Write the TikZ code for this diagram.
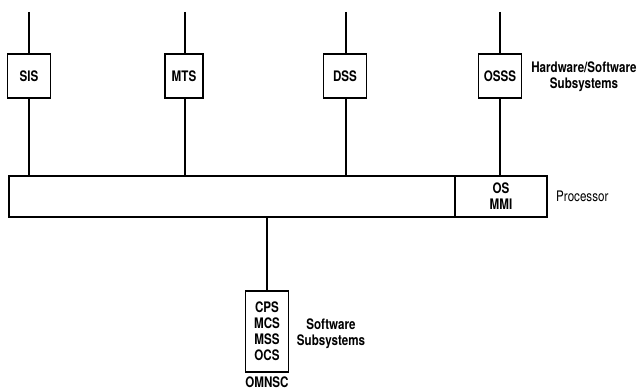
\documentclass[tikz,border=0pt]{standalone}
\usepackage{fontspec}
\setmainfont[FakeStretch=0.8]{TeX Gyre Heros}
\usepackage{tikz}
\usetikzlibrary{positioning, calc}
\tikzset{
    subbox/.style={draw, rectangle, line width=1.8pt, minimum width=43pt, minimum height=44pt, font=\fontsize{14.5}{16}\selectfont\bfseries, align=center, inner sep=0pt},
    busline/.style={line width=1.8pt},
    sidelabel/.style={font=\fontsize{14.5}{16}\selectfont\bfseries, align=center, inner sep=0pt},
    proclabel/.style={font=\fontsize{14.5}{16}\selectfont, anchor=west, inner sep=0pt},
}
\begin{document}
\begin{tikzpicture}[x=1pt, y=-1pt]
    \useasboundingbox (0,0) rectangle (639,390);
    % Hardware/software subsystems
    \node[subbox] (sis) at (29, 76) {SIS};
    \node[subbox, minimum width=38pt] (mts) at (184, 76) {MTS};
    \node[subbox] (dss) at (345, 76) {DSS};
    \node[subbox] (osss) at (500, 76) {OSSS};
    \node[sidelabel] (hwsw) at (584, 76.5) {Hardware/Software\\Subsystems};

    % Processor bar
    \node[draw, busline, minimum width=538pt, minimum height=41pt, inner sep=0pt] (bar) at (278, 196.5) {};
    \node[sidelabel, minimum width=92pt, minimum height=41pt] (osmmi) at (501, 196.5) {OS\\MMI};
    \draw[busline] (osmmi.north west) -- (osmmi.south west);
    \node[proclabel] (proc) at (556, 196) {Processor};

    % Software subsystems
    \node[subbox, minimum height=81pt] (omnsc) at (267, 331.5) {CPS\\MCS\\MSS\\OCS};
    \node[sidelabel, below=3.5pt of omnsc] (omnsclabel) {OMNSC};
    \node[sidelabel] (swlabel) at (331, 333.5) {Software\\Subsystems};

    % Connections
    \coordinate (sistop) at (29, 12);
    \coordinate (mtstop) at (185, 12);
    \coordinate (dsstop) at (346, 12);
    \coordinate (ossstop) at (500, 12);
    \draw[busline] (sistop) -- (sis);
    \draw[busline] (mtstop) -- (mtstop |- mts.north);
    \draw[busline] (dsstop) -- (dsstop |- dss.north);
    \draw[busline] (ossstop) -- (osss);
    \draw[busline] (sis) -- (sis |- bar.north);
    \draw[busline] (mtstop |- mts.south) -- (mtstop |- bar.north);
    \draw[busline] (dsstop |- dss.south) -- (dsstop |- bar.north);
    \draw[busline] (osss) -- (osss |- bar.north);
    \draw[busline] (omnsc |- bar.south) -- (omnsc);
\end{tikzpicture}
\end{document}
